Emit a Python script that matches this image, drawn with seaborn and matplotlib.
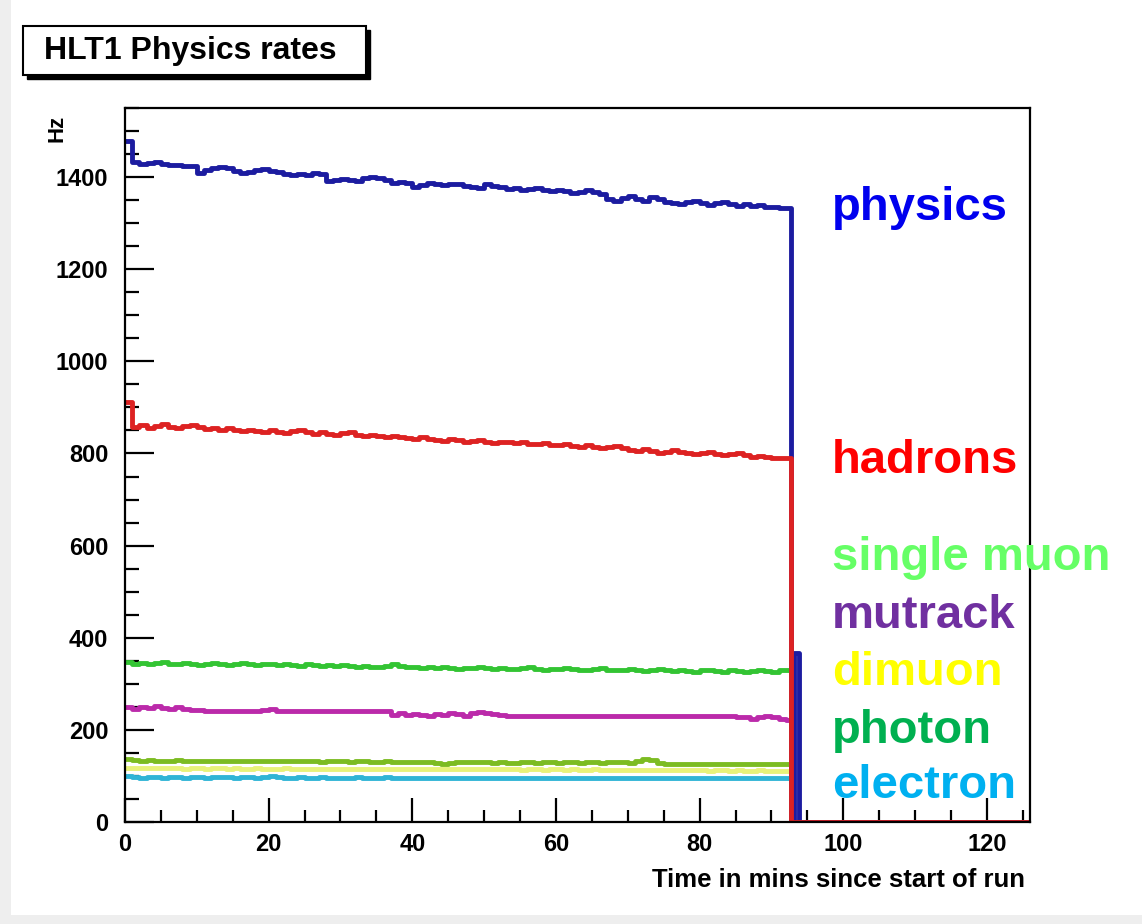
import numpy as np
import pandas as pd
import seaborn as sns
import matplotlib.pyplot as plt
from matplotlib.patches import Rectangle
from matplotlib.ticker import MultipleLocator

# rates per 1-minute bin, bins 0..92 (last bin ends where the run stopped)
physics = [1478, 1432, 1428, 1430, 1432, 1428, 1426, 1427, 1425, 1424,
           1408, 1416, 1420, 1423, 1419, 1413, 1409, 1411, 1416, 1418,
           1414, 1410, 1406, 1404, 1407, 1404, 1408, 1406, 1392, 1394,
           1396, 1394, 1392, 1397, 1401, 1398, 1394, 1388, 1390, 1387,
           1378, 1383, 1388, 1385, 1382, 1386, 1384, 1381, 1379, 1376,
           1384, 1381, 1378, 1374, 1376, 1372, 1375, 1377, 1373, 1370,
           1372, 1369, 1366, 1368, 1371, 1367, 1364, 1352, 1349, 1355,
           1358, 1353, 1349, 1356, 1352, 1347, 1344, 1342, 1346, 1348,
           1344, 1340, 1343, 1345, 1341, 1338, 1341, 1337, 1339, 1336,
           1335, 1333, 1333]
hadrons = [912, 858, 862, 856, 860, 864, 858, 855, 859, 861,
           857, 853, 856, 852, 855, 850, 848, 852, 849, 846,
           850, 847, 845, 849, 851, 846, 843, 846, 842, 840,
           844, 846, 841, 838, 840, 837, 835, 839, 836, 833,
           831, 835, 832, 830, 828, 831, 829, 826, 828, 830,
           826, 823, 826, 824, 822, 825, 821, 820, 823, 819,
           818, 821, 817, 815, 818, 814, 811, 813, 816, 812,
           808, 806, 809, 805, 802, 804, 807, 803, 800, 798,
           801, 804, 799, 796, 798, 800, 796, 793, 795, 792,
           791, 790, 790]
single_muon = [348, 344, 346, 343, 345, 347, 344, 342, 345, 343,
               341, 344, 346, 343, 340, 342, 345, 343, 341, 344,
               342, 340, 343, 341, 339, 342, 340, 338, 341, 339,
               340, 338, 337, 339, 337, 336, 338, 344, 339, 336,
               337, 335, 336, 334, 336, 335, 333, 335, 334, 336,
               334, 333, 335, 333, 332, 334, 336, 333, 331, 333,
               332, 334, 332, 330, 331, 333, 335, 331, 329, 331,
               333, 330, 328, 330, 332, 329, 327, 330, 328, 326,
               329, 331, 328, 326, 329, 327, 325, 328, 330, 328,
               326, 329, 331]
mutrack = [249, 246, 250, 248, 252, 247, 245, 250, 246, 244,
           243, 242, 242, 242, 242, 242, 242, 242, 242, 243,
           246, 242, 241, 241, 241, 241, 241, 241, 241, 241,
           241, 241, 241, 241, 241, 241, 241, 233, 236, 232,
           235, 233, 231, 235, 232, 236, 234, 231, 236, 238,
           237, 234, 232, 231, 231, 231, 231, 231, 231, 231,
           231, 231, 231, 231, 231, 231, 231, 231, 231, 231,
           231, 231, 231, 231, 231, 231, 231, 231, 231, 231,
           231, 231, 231, 231, 231, 229, 227, 224, 229, 231,
           228, 223, 222]
dimuon = [118, 117, 118, 117, 117, 118, 117, 117, 116, 117,
          117, 116, 117, 117, 116, 117, 116, 116, 117, 116,
          116, 116, 117, 116, 116, 115, 116, 116, 115, 116,
          116, 115, 116, 115, 115, 116, 115, 115, 115, 116,
          115, 115, 114, 115, 115, 114, 115, 115, 114, 115,
          114, 114, 115, 114, 114, 113, 114, 114, 113, 114,
          114, 113, 114, 113, 113, 114, 113, 113, 112, 113,
          113, 112, 113, 113, 112, 112, 113, 112, 112, 112,
          112, 111, 112, 112, 111, 112, 111, 111, 112, 111,
          111, 111, 111]
photon = [137, 134, 133, 134, 133, 132, 133, 134, 133, 133,
          133, 132, 133, 133, 132, 133, 133, 132, 133, 132,
          132, 132, 133, 132, 132, 132, 132, 131, 132, 132,
          132, 131, 132, 132, 131, 131, 132, 131, 131, 131,
          131, 131, 131, 128, 125, 129, 131, 130, 130, 130,
          130, 129, 130, 127, 129, 130, 130, 129, 130, 130,
          129, 130, 130, 129, 131, 130, 129, 130, 130, 130,
          129, 133, 136, 134, 128, 125, 125, 125, 125, 125,
          125, 125, 125, 125, 125, 125, 125, 125, 125, 125,
          125, 125, 125]
electron = [100, 97, 96, 98, 97, 95, 97, 98, 96, 97,
            97, 96, 97, 98, 97, 96, 97, 97, 96, 98,
            99, 97, 96, 96, 97, 96, 96, 97, 96, 96,
            96, 96, 97, 96, 96, 96, 97, 96, 96, 96,
            96, 96, 96, 96, 96, 95, 96, 96, 96, 96,
            96, 96, 96, 95, 96, 96, 96, 96, 95, 96,
            96, 96, 96, 96, 96, 96, 96, 96, 96, 96,
            95, 96, 96, 96, 96, 96, 96, 96, 96, 96,
            96, 96, 96, 96, 96, 96, 96, 96, 96, 96,
            96, 96, 96]

# after the run stops: bins [92.7, 93.1], [93.1, 93.8], [93.8, 126]
tail_edges = [92.7, 93.1, 93.8, 126]
tails = {
    'physics': [0, 366, 0],
    'hadrons': [0, 0, 0],
    'single muon': [0, 0, 0],
    'mutrack': [0, 0, 0],
    'dimuon': [0, 0, 0],
    'photon': [0, 0, 0],
    'electron': [0, 0, 0],
}
bin_edges = list(range(0, 93)) + [92.7]

series = {
    'physics': physics, 'hadrons': hadrons, 'single muon': single_muon,
    'mutrack': mutrack, 'dimuon': dimuon, 'photon': photon, 'electron': electron,
}
line_colors = {
    'physics': '#1c1ca0', 'hadrons': '#dd2222', 'single muon': '#33c433',
    'mutrack': '#bb2aaa', 'dimuon': '#e8f27a', 'photon': '#7cbc22',
    'electron': '#30b4d6',
}
label_colors = {
    'physics': '#0000ee', 'hadrons': '#ff0000', 'single muon': '#66ff66',
    'mutrack': '#7030a0', 'dimuon': '#ffff00', 'photon': '#00b050',
    'electron': '#00b0f0',
}
label_baselines = {
    'physics': 0.762, 'hadrons': 0.488, 'single muon': 0.383, 'mutrack': 0.320,
    'dimuon': 0.259, 'photon': 0.196, 'electron': 0.136,
}

rows = []
for name, vals in series.items():
    xs = bin_edges[:-1] + tail_edges[:-1] + [tail_edges[-1]]
    ys = list(vals) + tails[name] + [tails[name][-1]]
    # vertical drop at the stop time
    xs = xs[:93] + [92.7] + xs[93:]
    ys = ys[:93] + [vals[-1]] + ys[93:]
    for x, y in zip(xs, ys):
        rows.append({'time': x, 'rate': y, 'series': name})
df = pd.DataFrame(rows)

sns.set_style('white')
plt.rcParams['font.family'] = ['Liberation Sans', 'DejaVu Sans']
plt.rcParams['font.weight'] = 'bold'
plt.rcParams['text.color'] = 'black'
plt.rcParams['xtick.color'] = 'black'
plt.rcParams['ytick.color'] = 'black'

fig = plt.figure(figsize=(11.42, 9.24), dpi=100)
fig.patch.set_facecolor('#eeeeee')
fig.patches.append(Rectangle((11 / 1142, 9 / 924), 1.0, 1.0, transform=fig.transFigure,
                             facecolor='white', edgecolor='none', zorder=-5))

ax = fig.add_axes([125 / 1142, 1 - 822 / 924, (1030 - 125) / 1142, (822 - 108) / 924])

draw_order = ['electron', 'dimuon', 'photon', 'mutrack', 'single muon', 'physics', 'hadrons']
sns.lineplot(data=df, x='time', y='rate', hue='series', hue_order=draw_order,
             palette=line_colors, estimator=None, sort=False, units='series',
             drawstyle='steps-post', linewidth=3.5, legend=False, ax=ax)

ax.set_xlim(0, 126)
ax.set_ylim(0, 1550)
ax.set_xlabel('')
ax.set_ylabel('')
ax.xaxis.set_major_locator(MultipleLocator(20))
ax.xaxis.set_minor_locator(MultipleLocator(5))
ax.yaxis.set_major_locator(MultipleLocator(200))
ax.yaxis.set_minor_locator(MultipleLocator(50))
ax.tick_params(axis='both', which='both', direction='in', width=1.6, color='black',
               labelcolor='black', labelsize=17, bottom=True, left=True,
               top=False, right=False)
ax.tick_params(axis='y', which='major', length=21, pad=12)
ax.tick_params(axis='y', which='minor', length=10)
ax.tick_params(axis='x', which='major', length=17, pad=8)
ax.tick_params(axis='x', which='minor', length=9)
for lab in ax.get_xticklabels() + ax.get_yticklabels():
    lab.set_fontweight('bold')
for sp in ax.spines.values():
    sp.set_visible(True)
    sp.set_color('black')
    sp.set_linewidth(1.6)

# series labels to the right of the plot
for name, yb in label_baselines.items():
    fig.text(832 / 1142, yb, name, color=label_colors[name], fontsize=34,
             fontweight='bold', ha='left', va='baseline')

# title pave with shadow
fig.patches.append(Rectangle((27 / 1142, 1 - 79 / 924), 343 / 1142, 49 / 924,
                             transform=fig.transFigure, facecolor='black',
                             edgecolor='black', zorder=1))
fig.patches.append(Rectangle((23 / 1142, 1 - 75 / 924), 343 / 1142, 49 / 924,
                             transform=fig.transFigure, facecolor='white',
                             edgecolor='black', linewidth=1.5, zorder=2))
fig.text(44 / 1142, 1 - 51 / 924, 'HLT1 Physics rates', fontsize=23, fontweight='bold',
         color='black', ha='left', va='center', zorder=3)

fig.text(57 / 1142, 1 - 128 / 924, 'Hz', fontsize=16, fontweight='bold', rotation=90,
         color='black', ha='center', va='center')
fig.text(1025 / 1142, 1 - 880 / 924, 'Time in mins since start of run', fontsize=18.5,
         fontweight='bold', color='black', ha='right', va='center')

fig.savefig('out.png', dpi=100, facecolor=fig.get_facecolor())
